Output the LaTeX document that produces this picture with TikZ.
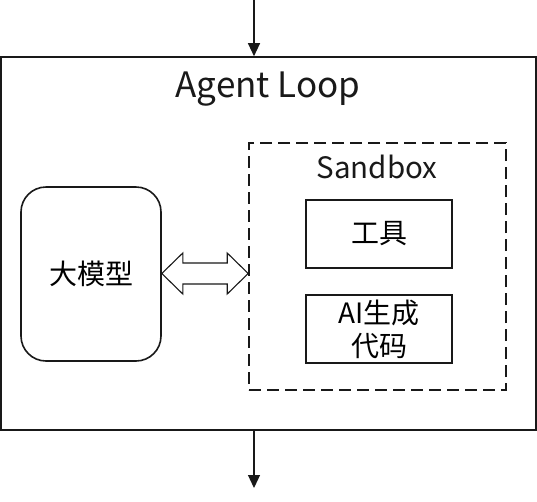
\documentclass[tikz,border=0pt]{standalone}
\usepackage{fontspec}
\setmainfont{Noto Sans CJK SC}
\usetikzlibrary{calc,arrows.meta}
\begin{document}
\begin{tikzpicture}[x=1pt,y=-1pt,
  box/.style={draw=black!90, line width=1.6pt, inner sep=0pt, font=\fontsize{28}{33}\selectfont, align=center},
  flow/.style={draw=black!90, line width=1.2pt, -{Triangle[width=12pt,length=13pt]}},
  lbl/.style={font=\fontsize{29.5}{33}\selectfont, text=black!90, inner sep=0pt}]
\useasboundingbox (0,0) rectangle (537,501);
\node[box, minimum width=535, minimum height=373] (outer) at (268.5,243.5) {};
\node[lbl, font=\fontsize{35}{40}\selectfont, anchor=base] (title) at (268,97) {Agent Loop};
\node[box, rounded corners=25pt, minimum width=140, minimum height=174] (llm) at (91,274) {大模型};
\node[box, dash pattern=on 12pt off 6pt, minimum width=257, minimum height=247] (sb) at (377.5,266.5) {};
\node[lbl, anchor=base] (sbt) at (377,178) {Sandbox};
\node[box, minimum width=146, minimum height=68] (tool) at (379,234) {工具};
\node[box, minimum width=146, minimum height=68] (ai) at (379,329) {AI生成\\代码};
\coordinate (top) at (254,0);
\coordinate (bot) at (254,488);
\draw[flow] (top) -- (top |- outer.north);
\draw[flow] (bot |- outer.south) -- (bot);
% double arrow between llm and sandbox
\coordinate (L) at (llm.east |- 0,273.5);
\coordinate (R) at (sb.west |- 0,273.5);
\draw[draw=black!90, line width=1.1pt, fill=white, line join=miter]
  (L) -- ($(L)+(21,-20.5)$) -- ($(L)+(21,-10.5)$) -- ($(R)+(-21,-10.5)$) -- ($(R)+(-21,-20.5)$)
  -- (R) -- ($(R)+(-21,20.5)$) -- ($(R)+(-21,10.5)$) -- ($(L)+(21,10.5)$) -- ($(L)+(21,20.5)$) -- cycle;
\end{tikzpicture}
\end{document}
